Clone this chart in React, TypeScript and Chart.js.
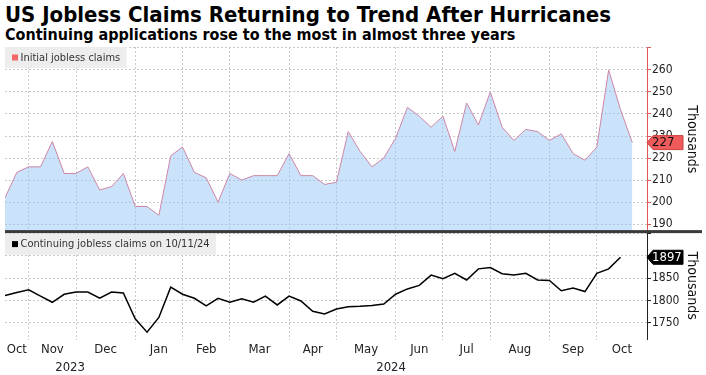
import React, { useEffect, useRef } from 'react';
import { Chart, registerables } from 'chart.js';

Chart.register(...registerables);

const FONT = '"DejaVu Sans Condensed", "DejaVu Sans", sans-serif';

// Weekly initial jobless claims (thousands)
const initialClaims = [
  202, 213.5, 216, 216, 227.5, 213, 213, 216, 205.5, 207, 213, 198, 198, 194, 221, 225,
  213.5, 211, 200, 213, 210, 212, 212, 212, 222, 212, 212, 208, 209, 232, 223, 216, 220,
  229, 243, 239, 234, 239, 223, 245, 235, 250, 234, 228, 233, 232, 228, 231, 222, 219,
  225, 260, 242, 227,
];

// Weekly continuing jobless claims (thousands)
const continuingClaims = [
  1811, 1818, 1824, 1810, 1796, 1814, 1819, 1819, 1805, 1819, 1817, 1759, 1729, 1762, 1830,
  1814, 1805, 1788, 1805, 1796, 1804, 1796, 1810, 1790, 1810, 1799, 1776, 1770, 1781, 1786,
  1787, 1789, 1792, 1814, 1826, 1834, 1857, 1849, 1861, 1846, 1871, 1874, 1860, 1857, 1861,
  1846, 1845, 1822, 1828, 1820, 1861, 1871, 1897,
];

const monthLabels = ['Oct', 'Nov', 'Dec', 'Jan', 'Feb', 'Mar', 'Apr', 'May', 'Jun', 'Jul', 'Aug', 'Sep', 'Oct'];
const monthStarts = [2, 6, 11, 15, 19, 24, 28, 33, 37, 41, 46, 50];
const yearLabels = ['2023', '2024'];
const yearStarts = [11];
const initialTicks = [190, 200, 210, 220, 230, 240, 250, 260, 270];
const initialShown = [190, 200, 210, 220, 230, 240, 250, 260];
const continuingTicks = [1750, 1800, 1850, 1900, 1950];
const continuingShown = [1750, 1800, 1850];
const X_MIN = 0;
const X_MAX = 54.24;

const LINE_COLOR = '#cf86a6';
const FILL_COLOR = 'rgba(150, 200, 248, 0.5)';
const RED = '#e4575a';
const TAG_RED = '#ef5a5a';

function centers(starts: number[], min: number, max: number) {
  const b = [min, ...starts, max];
  const out: number[] = [];
  for (let i = 0; i < b.length - 1; i++) out.push((b[i] + b[i + 1]) / 2);
  return out;
}

function drawLegend(ctx: CanvasRenderingContext2D, x: number, y: number, h: number, text: string, color: string) {
  ctx.font = `11px ${FONT}`;
  const tw = ctx.measureText(text).width;
  ctx.fillStyle = 'rgba(236,236,236,0.95)';
  ctx.fillRect(x, y, tw + 22, h);
  ctx.fillStyle = color;
  ctx.fillRect(x + 7, y + h / 2 - 3, 6, 6);
  ctx.fillStyle = '#333';
  ctx.textBaseline = 'middle';
  ctx.textAlign = 'left';
  ctx.fillText(text, x + 15.5, y + h / 2 + 0.5);
}

function drawTag(ctx: CanvasRenderingContext2D, x: number, y: number, text: string, bg: string, fg: string, border: string) {
  const h = 14;
  const w = 36;
  const tip = 6;
  ctx.beginPath();
  ctx.moveTo(x, y);
  ctx.lineTo(x + tip, y - h / 2);
  ctx.lineTo(x + w, y - h / 2);
  ctx.lineTo(x + w, y + h / 2);
  ctx.lineTo(x + tip, y + h / 2);
  ctx.closePath();
  ctx.fillStyle = bg;
  ctx.fill();
  ctx.strokeStyle = border;
  ctx.lineWidth = 1;
  ctx.stroke();
  ctx.fillStyle = fg;
  ctx.font = `13px ${FONT}`;
  ctx.textAlign = 'left';
  ctx.textBaseline = 'middle';
  ctx.fillText(text, x + tip - 1, y + 0.5);
}

const panelPlugin = {
  id: 'panelDecor',
  afterDraw(chart: any) {
    const { ctx, chartArea } = chart;
    const y1 = chart.scales.y1;
    const y2 = chart.scales.y2;
    ctx.save();
    ctx.fillStyle = '#3a3a3a';
    ctx.fillRect(chartArea.left, y1.bottom - 1.5, chart.width - chartArea.left - 4, 3);
    drawLegend(ctx, chartArea.left, y1.top, 21, 'Initial jobless claims', '#f06868');
    drawLegend(ctx, chartArea.left, y2.top + 2, 21, 'Continuing jobless claims on 10/11/24', '#000');
    const lastI = initialClaims[initialClaims.length - 1];
    const lastC = continuingClaims[continuingClaims.length - 1];
    drawTag(ctx, y1.left, y1.getPixelForValue(lastI), String(lastI), TAG_RED, '#111', '#c84040');
    drawTag(ctx, y2.left, y2.getPixelForValue(lastC), String(lastC), '#000', '#fff', '#000');
    ctx.restore();
  },
};

export default function App() {
  const ref = useRef<HTMLCanvasElement | null>(null);

  useEffect(() => {
    if (!ref.current) return;
    const monthCenters = centers(monthStarts, X_MIN, X_MAX);
    const yearCenters = centers(yearStarts, X_MIN, X_MAX);
    const tickFont = { family: FONT, size: 12 };

    const chart = new Chart(ref.current, {
      type: 'line',
      data: {
        datasets: [
          {
            label: 'Initial jobless claims',
            data: initialClaims.map((v, i) => ({ x: i, y: v })),
            xAxisID: 'x',
            yAxisID: 'y1',
            borderColor: LINE_COLOR,
            borderWidth: 1,
            backgroundColor: FILL_COLOR,
            fill: 'start',
            pointRadius: 0,
            tension: 0,
          },
          {
            label: 'Continuing jobless claims',
            data: continuingClaims.map((v, i) => ({ x: i, y: v })),
            xAxisID: 'x',
            yAxisID: 'y2',
            borderColor: '#000',
            borderWidth: 1.5,
            fill: false,
            pointRadius: 0,
            tension: 0,
          },
        ],
      },
      options: {
        animation: false,
        responsive: false,
        maintainAspectRatio: false,
        layout: { padding: { top: 47, left: 5, right: 0, bottom: 0 } },
        plugins: { legend: { display: false }, tooltip: { enabled: false }, title: { display: false } },
        scales: {
          x: {
            type: 'linear',
            position: 'bottom',
            min: X_MIN,
            max: X_MAX,
            weight: 0,
            afterBuildTicks: (s: any) => {
              s.ticks = monthStarts.map((v) => ({ value: v }));
            },
            ticks: { display: false, autoSkip: false },
            grid: { color: '#c8c8c8', drawTicks: false, lineWidth: 1 },
            border: { display: false, dash: [2, 2] },
          },
          xm: {
            type: 'linear',
            position: 'bottom',
            min: X_MIN,
            max: X_MAX,
            weight: 1,
            afterBuildTicks: (s: any) => {
              s.ticks = monthCenters.map((v) => ({ value: v }));
            },
            ticks: {
              autoSkip: false,
              maxRotation: 0,
              minRotation: 0,
              padding: 2,
              color: '#222',
              font: { family: FONT, size: 13 },
              callback: (_v: any, i: number) => monthLabels[i],
            },
            grid: { display: false, drawTicks: false },
            border: { display: false },
          },
          xy: {
            type: 'linear',
            position: 'bottom',
            min: X_MIN,
            max: X_MAX,
            weight: 2,
            afterBuildTicks: (s: any) => {
              s.ticks = yearCenters.map((v) => ({ value: v }));
            },
            ticks: {
              autoSkip: false,
              maxRotation: 0,
              minRotation: 0,
              padding: 0,
              color: '#222',
              font: { family: FONT, size: 13 },
              callback: (_v: any, i: number) => yearLabels[i],
            },
            grid: { display: false, drawTicks: false },
            border: { display: false },
          },
          y1: {
            type: 'linear',
            position: 'right',
            stack: 'panels',
            stackWeight: 186,
            min: 186.6,
            max: 270.4,
            afterBuildTicks: (s: any) => {
              s.ticks = initialTicks.map((v) => ({ value: v }));
            },
            afterFit: (s: any) => {
              s.width = 59;
            },
            ticks: {
              autoSkip: false,
              color: '#222',
              padding: 1,
              font: tickFont,
              callback: (v: any) => (initialShown.includes(v) ? String(v) : ''),
            },
            grid: { color: '#c8c8c8', tickColor: RED, tickLength: 4, tickBorderDash: [] },
            border: { display: true, color: RED, width: 1, dash: [2, 2] },
            title: {
              display: true,
              text: 'Thousands',
              color: '#111',
              font: { family: FONT, size: 14 },
              padding: { top: 6, bottom: 0 },
            },
          },
          y2: {
            type: 'linear',
            position: 'right',
            stack: 'panels',
            stackWeight: 109,
            min: 1711.8,
            max: 1954.6,
            afterBuildTicks: (s: any) => {
              s.ticks = continuingTicks.map((v) => ({ value: v }));
            },
            afterFit: (s: any) => {
              s.width = 59;
            },
            ticks: {
              autoSkip: false,
              color: '#222',
              padding: 1,
              font: tickFont,
              callback: (v: any) => (continuingShown.includes(v) ? String(v) : ''),
            },
            grid: { color: '#c8c8c8', tickColor: '#222', tickLength: 4, tickBorderDash: [] },
            border: { display: true, color: '#222', width: 1, dash: [2, 2] },
            title: {
              display: true,
              text: 'Thousands',
              color: '#111',
              font: { family: FONT, size: 14 },
              padding: { top: 6, bottom: 0 },
            },
          },
        },
      } as any,
      plugins: [panelPlugin],
    });
    return () => chart.destroy();
  }, []);

  return (
    <div style={{ position: 'absolute', left: 0, top: 0, width: 706, height: 375, background: '#fff' }}>
      <div
        style={{
          position: 'absolute',
          left: 5,
          top: 2,
          font: `bold 22px ${FONT}`,
          lineHeight: '25px',
          color: '#000',
          whiteSpace: 'nowrap',
        }}
      >
        US Jobless Claims Returning to Trend After Hurricanes
      </div>
      <div
        style={{
          position: 'absolute',
          left: 5,
          top: 25,
          font: `bold 16px ${FONT}`,
          lineHeight: '19px',
          color: '#000',
          whiteSpace: 'nowrap',
        }}
      >
        Continuing applications rose to the most in almost three years
      </div>
      <canvas ref={ref} width={706} height={375} style={{ position: 'absolute', left: 0, top: 0 }} />
    </div>
  );
}
